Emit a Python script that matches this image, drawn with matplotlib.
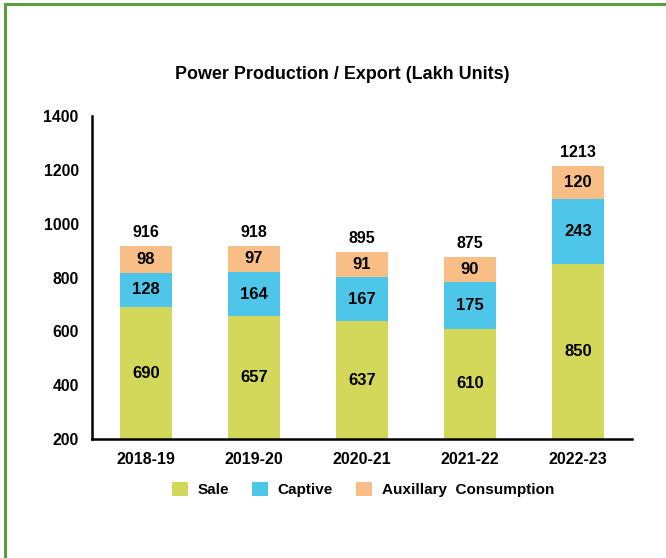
import matplotlib.pyplot as plt
from matplotlib.lines import Line2D

plt.rcParams['font.family'] = ['Liberation Sans', 'DejaVu Sans']

years = ["2018-19", "2019-20", "2020-21", "2021-22", "2022-23"]
sale = [690, 657, 637, 610, 850]
captive = [128, 164, 167, 175, 243]
auxiliary = [98, 97, 91, 90, 120]
totals = [916, 918, 895, 875, 1213]

c_sale = "#d3d75a"
c_cap = "#4dc6ea"
c_aux = "#f8be85"

fig = plt.figure(figsize=(6.66, 5.58), dpi=100)
ax = fig.add_axes([0.138, 0.213, 0.811, 0.579])

x = range(len(years))
w = 0.48
b1 = ax.bar(x, sale, w, color=c_sale, label="Sale")
b2 = ax.bar(x, captive, w, bottom=sale, color=c_cap, label="Captive")
bottom3 = [s + c for s, c in zip(sale, captive)]
b3 = ax.bar(x, auxiliary, w, bottom=bottom3, color=c_aux, label="Auxillary  Consumption")

for i in x:
    ax.text(i, (200 + sale[i]) / 2, str(sale[i]), ha='center', va='center',
            fontsize=12, fontweight='bold')
    ax.text(i, sale[i] + captive[i] / 2, str(captive[i]), ha='center', va='center',
            fontsize=12, fontweight='bold')
    ax.text(i, bottom3[i] + auxiliary[i] / 2, str(auxiliary[i]), ha='center', va='center',
            fontsize=12, fontweight='bold')
    ax.text(i, totals[i] + 22, str(totals[i]), ha='center', va='bottom',
            fontsize=11.5, fontweight='bold')

ax.set_xlim(-0.5, 4.5)
ax.set_ylim(200, 1400)
ax.set_yticks(range(200, 1401, 200))
ax.set_xticks(list(x))
ax.set_xticklabels(years, fontsize=11.5, fontweight='bold')
for lab in ax.get_yticklabels():
    lab.set_fontsize(11.3)
    lab.set_fontweight('bold')
ax.tick_params(axis='x', length=0, pad=9)
ax.tick_params(axis='y', length=0, pad=9.5)
for s in ['top', 'right']:
    ax.spines[s].set_visible(False)
for s in ['left', 'bottom']:
    ax.spines[s].set_linewidth(1.8)

fig.text(0.514, 0.867, "Power Production / Export (Lakh Units)", ha='center', va='center',
         fontsize=12.9, fontweight='bold')

leg = fig.legend(handles=[b1, b2, b3], loc='center', bbox_to_anchor=(0.545, 0.123), ncol=3,
                 frameon=False, prop={'size': 11, 'weight': 'bold'},
                 handlelength=1.05, handleheight=1.05, columnspacing=1.55, handletextpad=0.6)

# green frame on left and top
fig.add_artist(Line2D([0.0075, 0.0075], [0, 0.993], transform=fig.transFigure,
                      color="#5a9e3e", linewidth=2.2))
fig.add_artist(Line2D([0.0075, 1], [0.993, 0.993], transform=fig.transFigure,
                      color="#5a9e3e", linewidth=2.2))

fig.savefig("out.png", dpi=100)
